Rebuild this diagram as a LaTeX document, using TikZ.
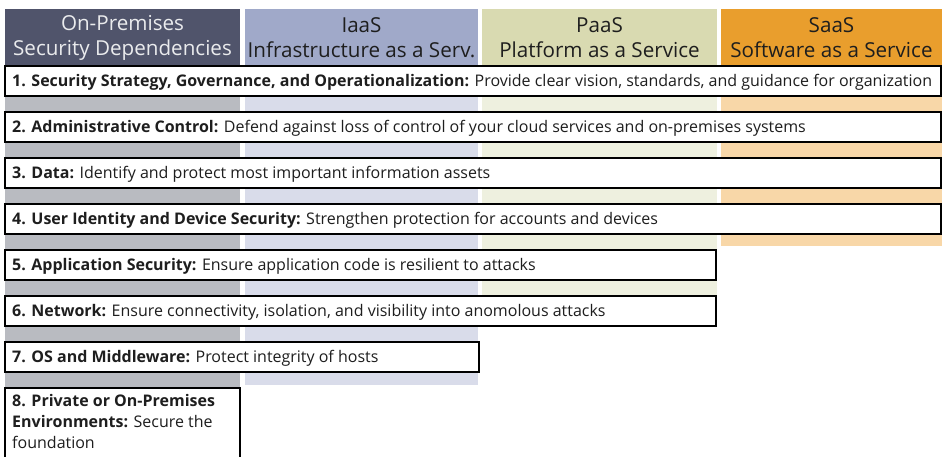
\documentclass[tikz,border=0pt]{standalone}
\usepackage{fontspec}
\setmainfont{Open Sans}
\usetikzlibrary{positioning}
\definecolor{onpremdark}{HTML}{50546B}
\definecolor{onpremlight}{HTML}{B9BBC1}
\definecolor{iaasdark}{HTML}{A0A9C9}
\definecolor{iaaslight}{HTML}{D9DCEA}
\definecolor{paasdark}{HTML}{D9DAB1}
\definecolor{paaslight}{HTML}{EEF0DF}
\definecolor{saasdark}{HTML}{E99E2D}
\definecolor{saaslight}{HTML}{F8D7A8}
\definecolor{inktext}{HTML}{1E1E1E}

\begin{document}
\begin{tikzpicture}[x=0.03cm, y=-0.03cm,
  headtext/.style={align=center, inner sep=0pt, text=inktext,
    font=\fontsize{17.6}{21.3}\selectfont},
  rowbox/.style={draw=black, line width=1.3pt, fill=white},
  rowtext/.style={anchor=west, inner sep=0pt, align=left, text=inktext,
    font=\fontsize{13.65}{17.9}\selectfont}]
\useasboundingbox (0,0) rectangle (942,457);
% column backgrounds
\fill[onpremlight] (5,65) rectangle (240,388);
\fill[iaaslight] (245,65) rectangle (478,385);
\fill[paaslight] (482,65) rectangle (717,296);
\fill[saaslight] (721,65) rectangle (942,246);
% column headers
\fill[onpremdark] (5,9) rectangle (240,65);
\fill[iaasdark] (245,9) rectangle (478,65);
\fill[paasdark] (482,9) rectangle (717,65);
\fill[saasdark] (721,9) rectangle (942,65);
\node[headtext, text=white!88!onpremdark] (onprem) at (122.5,38) {On-Premises\\Security Dependencies};
\node[headtext] (iaas) at (361.5,38) {IaaS\\Infrastructure as a Serv.};
\node[headtext] (paas) at (599.5,38) {PaaS\\Platform as a Service};
\node[headtext] (saas) at (831.5,38) {SaaS\\Software as a Service};
% 1. strategy
\draw[rowbox] (5,66) rectangle (941,96);
\node[rowtext] (layer1) at (12,82) {\textbf{1. Security Strategy, Governance, and Operationalization:} Provide clear vision, standards, and guidance for organization};
% 2. admin control
\draw[rowbox] (5,112) rectangle (941,142);
\node[rowtext] (layer2) at (12,128) {\textbf{2. Administrative Control:} Defend against loss of control of your cloud services and on-premises systems};
% 3. data
\draw[rowbox] (5,158) rectangle (941,188);
\node[rowtext] (layer3) at (12,174) {\textbf{3. Data:} Identify and protect most important information assets};
% 4. identity
\draw[rowbox] (5,204) rectangle (941,234);
\node[rowtext] (layer4) at (12,220) {\textbf{4. User Identity and Device Security:} Strengthen protection for accounts and devices};
% 5. application
\draw[rowbox] (5,250) rectangle (716,280);
\node[rowtext] (layer5) at (12,266) {\textbf{5. Application Security:} Ensure application code is resilient to attacks};
% 6. network
\draw[rowbox] (5,296) rectangle (716,326);
\node[rowtext] (layer6) at (12,312) {\textbf{6. Network:} Ensure connectivity, isolation, and visibility into anomolous attacks};
% 7. os
\draw[rowbox] (5,342) rectangle (479,372);
\node[rowtext] (layer7) at (12,358) {\textbf{7. OS and Middleware:} Protect integrity of hosts};
% 8. private / on-premises
\draw[rowbox] (5,388) rectangle (240,470);
\node[rowtext, anchor=north west] (layer8) at (12,394) {\textbf{8. Private or On-Premises}\\\textbf{Environments:} Secure the\\foundation};
\end{tikzpicture}
\end{document}
